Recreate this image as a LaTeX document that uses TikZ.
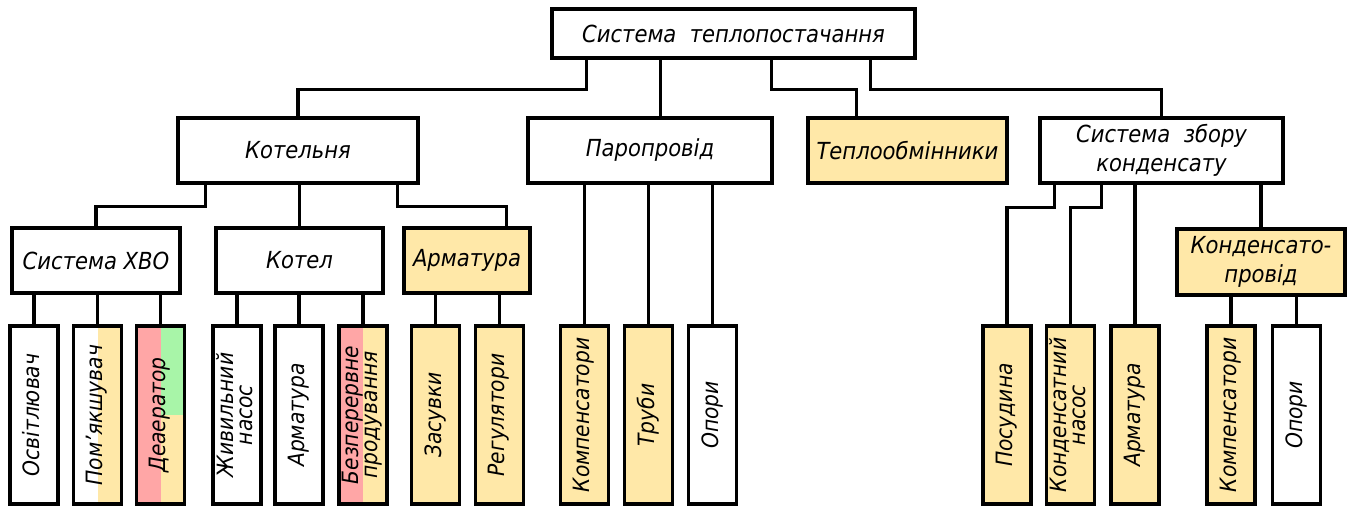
\documentclass[tikz,border=0pt]{standalone}
\usepackage{fontspec}
\setmainfont{DejaVu Sans Condensed}[ItalicFont={DejaVu Sans Condensed Oblique}]
\usepackage{graphicx}
\usetikzlibrary{calc}
\definecolor{cyel}{HTML}{FFE8A8}
\definecolor{cred}{HTML}{FFA6A6}
\definecolor{cgrn}{HTML}{A8F5A8}
\newcommand{\uptext}[1]{\rotatebox{90}{\begin{tabular}{@{}c@{}}#1\end{tabular}}}
\tikzset{
	box/.style args = {#1}{draw, line width=3.4pt, fill=#1, inner sep=0pt, align=center,
		font=\itshape\fontsize{23.5}{29}\selectfont},
	box/.default = white,
	leaf/.style args = {#1}{box=#1, minimum width=48pt, minimum height=178pt,
		font=\itshape\fontsize{22.5}{19}\selectfont},
	leaf/.default = white,
	wire/.style = {line width=3.4pt},
	halves/.style 2 args = {path picture={
		\fill[#1] (path picture bounding box.north west) rectangle (path picture bounding box.south);
		\fill[#2] (path picture bounding box.north) rectangle (path picture bounding box.south east);
	}},
}

\begin{document}
\begin{tikzpicture}[x=1pt, y=-1pt]
	\useasboundingbox (0,0) rectangle (1352,506);
	% top level
	\node[box, minimum width=363pt, minimum height=49pt] (top) at (733.5,33.5) {Система\ \ теплопостачання};
	\node[box, minimum width=240pt, minimum height=65pt] (kot) at (298,150.5) {Котельня};
	\node[box, minimum width=244pt, minimum height=65pt] (par) at (650,150.5) {Паропровід};
	\node[box=cyel, minimum width=199pt, minimum height=65pt] (tep) at (907.5,150.5) {Теплообмінники};
	\node[box, minimum width=243pt, minimum height=65pt] (zbir) at (1161.5,150.5) {Система\ \ збору\\конденсату};
	% third level
	\node[box, minimum width=168pt, minimum height=65pt] (hvo) at (96,260.5) {Система ХВО};
	\node[box, minimum width=167pt, minimum height=65pt] (kotel) at (299.5,260.5) {Котел};
	\node[box=cyel, minimum width=126pt, minimum height=65pt] (arm) at (467,260.5) {Арматура};
	\node[box=cyel, minimum width=168pt, minimum height=66pt] (kpr) at (1261,262) {Конденсато-\\провід};
	% leaves
	\foreach \n/\x/\c/\t in {osv/34/white/{Освітлювач}, zhyv/237/white/{Живильний\\насос},
		armk/299/white/{Арматура}, zas/435.5/cyel/{Засувки}, reg/499.5/cyel/{Регулятори},
		komp/584.5/cyel/{Компенсатори}, trub/648.5/cyel/{Труби}, opor/712.5/white/{Опори},
		posud/1007/cyel/{Посудина}, kn/1070.5/cyel/{Конденсатний\\насос}, armz/1135/cyel/{Арматура},
		komz/1231/cyel/{Компенсатори}, opz/1296.5/white/{Опори}} {
		\node[leaf=\c] (\n) at (\x,415) {\uptext{\t}};
	}
	\node[leaf, halves={white}{cyel}] (pom) at (97.5,415) {\uptext{Пом’якшувач}};
	\node[leaf, path picture={
		\fill[cred] (path picture bounding box.north west) rectangle (path picture bounding box.south);
		\fill[cgrn] (path picture bounding box.north) rectangle (path picture bounding box.east);
		\fill[cyel] (path picture bounding box.center) rectangle (path picture bounding box.south east);
	}] (dea) at (160.5,415) {\uptext{Деаератор}};
	\node[leaf, halves={cred}{cyel}] (bez) at (363,415) {\uptext{Безперервне\\продування}};
	% connectors
	\draw[wire] ($(top.south west)+(36,0)$) -- ++(0,30) -| (kot.north);
	\draw[wire] ($(top.south west)+(110,0)$) coordinate (p) -- (p |- par.north);
	\draw[wire] ($(top.south west)+(221,0)$) -- ++(0,30) -| ($(tep.north west)+(50,0)$);
	\draw[wire] ($(top.south west)+(320,0)$) -- ++(0,30) -| (zbir.north);
	\draw[wire] ($(kot.south west)+(29,0)$) -- ++(0,22) -| (hvo.north);
	\draw[wire] (kotel.north |- kot.south) -- (kotel.north);
	\draw[wire] ($(kot.south east)+(-22,0)$) -- ++(0,22) -| ($(arm.north east)+(-25,0)$);
	\draw[wire] ($(zbir.south west)+(16,0)$) -- ++(0,23) -| (posud.north);
	\draw[wire] ($(zbir.south west)+(63,0)$) -- ++(0,23) -| (kn.north);
	\draw[wire] (armz.north |- zbir.south) -- (armz.north);
	\draw[wire] (kpr.north |- zbir.south) -- (kpr.north);
	\foreach \p/\c in {hvo/osv, hvo/pom, hvo/dea, kotel/zhyv, kotel/armk, kotel/bez,
		arm/zas, arm/reg, par/komp, par/trub, par/opor, kpr/komz, kpr/opz} {
		\draw[wire] (\c.north |- \p.south) -- (\c.north);
	}
\end{tikzpicture}
\end{document}
